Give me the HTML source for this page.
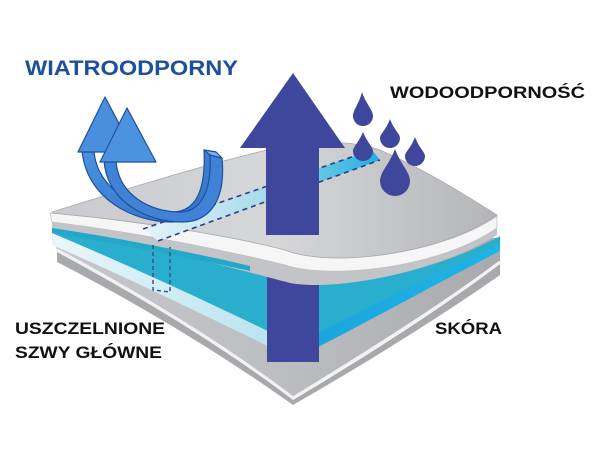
<!DOCTYPE html>
<html><head><meta charset="utf-8"><style>html,body{margin:0;padding:0;background:#fff}svg{display:block}</style></head>
<body>
<svg width="608" height="456" viewBox="0 0 608 456" xmlns="http://www.w3.org/2000/svg">
<defs>
<linearGradient id="gtop" x1="0" y1="0" x2="1" y2="0"><stop offset="0" stop-color="#c9cacd"/><stop offset="0.5" stop-color="#d6d7d9"/><stop offset="1" stop-color="#b4b5b8"/></linearGradient>
<linearGradient id="gbot" x1="0" y1="0" x2="1" y2="0"><stop offset="0" stop-color="#c6c7ca"/><stop offset="0.5" stop-color="#bdbec1"/><stop offset="1" stop-color="#a9aaad"/></linearGradient>
<linearGradient id="seam" x1="0" y1="0" x2="1" y2="0"><stop offset="0" stop-color="#e6f4f9"/><stop offset="0.5" stop-color="#a9dbea"/><stop offset="1" stop-color="#1fb0e0"/></linearGradient>
<linearGradient id="rim" x1="0" y1="0" x2="1" y2="0"><stop offset="0" stop-color="#eaf6fa"/><stop offset="0.5" stop-color="#b9e3f0"/><stop offset="0.56" stop-color="#1aa5dc"/><stop offset="1" stop-color="#1fb3e6"/></linearGradient>
<linearGradient id="sw" x1="0" y1="0" x2="1" y2="1"><stop offset="0" stop-color="#4a93e0"/><stop offset="1" stop-color="#2f6fc6"/></linearGradient>
</defs>
<rect width="608" height="456" fill="#fff"/>

<!-- bottom grey layer -->
<path d="M57,250 C150,300 230,350 293,398 C380,345 450,300 500,262 L500,238 L52,232 Z" fill="url(#gbot)"/>
<path d="M57,250 C150,300 230,350 293,398 C380,345 450,300 500,262" fill="none" stroke="#f2f2f3" stroke-width="3"/>
<path d="M57,252 L57,262 C150,310 230,360 293,405 C380,355 450,310 500,275 L500,264 C450,302 380,348 293,400 C230,352 150,302 57,252 Z" fill="#a8a9ac"/>
<!-- blue layer -->
<path d="M52,229 C150,245 240,270 290,282 C340,292 440,270 500,236 L500,250 C430,285 360,325 295,358 C220,322 140,282 52,244 Z" fill="#2aaecd"/>
<!-- rim -->
<path d="M52,233 C140,270 220,308 295,344 C360,312 430,276 500,244 L500,251 C430,287 360,326 295,359 C220,323 140,283 52,245 Z" fill="url(#rim)"/>
<!-- lower arrow shaft -->
<rect x="267" y="276" width="52" height="86" fill="#3f479c"/>
<!-- grey middle -->
<path d="M52,221 C150,234 240,254 285,265 C330,280 440,268 497,227 L497,235 C440,270 340,292 290,283 C240,270 150,245 52,230 Z" fill="#c3c4c7"/>
<!-- teal thin stripe left -->
<path d="M52,228 C120,238 200,254 250,266 L250,271 C200,260 120,244 52,233 Z" fill="#22a9c8"/>
<!-- white band -->
<path d="M50,213 C150,222 240,238 285,250 C330,268 440,255 497,216 L497,228 C440,268 330,280 285,265 C240,254 150,234 52,222 Z" fill="#f6f6f7" stroke="#bfc0c3" stroke-width="0.8"/>
<!-- top grey -->
<path d="M52,212 C130,188 200,166 267,150 C320,140 350,140 380,150 C430,172 470,198 497,215 C440,255 330,268 285,250 C240,238 150,222 52,213 Z" fill="url(#gtop)" stroke="#a9aaad" stroke-width="0.8"/>
<!-- seam stripe -->
<path d="M143,229 L372,150 L380,160 L158,241 Z" fill="url(#seam)"/>
<line x1="143" y1="229" x2="372" y2="150" stroke="#2a3f8a" stroke-width="1.6" stroke-dasharray="5,4"/>
<line x1="158" y1="241" x2="380" y2="160" stroke="#2a3f8a" stroke-width="1.6" stroke-dasharray="5,4"/>
<!-- vertical seam -->
<path d="M153,245 L153,290 L170,292 L170,247" fill="none" stroke="#3a4a8a" stroke-width="1.4" stroke-dasharray="4,3"/>

<!-- big arrow -->
<polygon points="293,73 345,148 319,148 319,235 266,235 266,148 240,148" fill="#3f479c"/>

<!-- drops -->
<g fill="#3f479c">
<path d="M362,92 C366,104 373,110 373,116 A10,10 0 0 1 353,116 C353,110 359,104 362,92 Z"/>
<path d="M390,119 C394,130 400,134 400,138 A10,10 0 0 1 380,138 C380,134 386,130 390,119 Z"/>
<path d="M363,132 C367,142 373,147 373,151 A10,10 0 0 1 353,151 C353,147 359,142 363,132 Z"/>
<path d="M415,137 C419,148 425,152 425,156 A10,10 0 0 1 405,156 C405,152 411,148 415,137 Z"/>
<path d="M395,149 C401,165 410,172 410,181 A15,15 0 0 1 380,181 C380,172 389,165 395,149 Z"/>
</g>

<!-- blue swoosh arrows -->
<g stroke="#1f4f9c" stroke-width="1.2" stroke-linejoin="round">
<path d="M94,150 C96,190 140,212 172,212 C196,212 206,190 204,150 L216,152 C220,195 205,222 172,222 C132,222 86,198 82,150 Z" fill="url(#sw)"/>
<polygon points="105,97 134,152 78,152" fill="#4a8fdd"/>
<path d="M116,160 C118,195 150,212 180,212 C200,212 212,192 210,155 L222,158 C226,200 210,222 182,222 C145,222 106,200 104,160 Z" fill="#3f82d6"/>
<polygon points="127,108 156,162 100,162" fill="#4b93e0"/>
<path d="M204,150 L216,152 L222,158 L210,155 Z" fill="#7fb4ea"/>
</g>

<!-- text -->
<text x="25" y="75" font-family="Liberation Sans, sans-serif" font-weight="bold" font-size="21" fill="#1d4f9a" textLength="213" lengthAdjust="spacingAndGlyphs">WIATROODPORNY</text>
<text x="390" y="98" font-family="Liberation Sans, sans-serif" font-weight="bold" font-size="17" fill="#111" textLength="195" lengthAdjust="spacingAndGlyphs">WODOODPORNOŚĆ</text>
<text x="15" y="334" font-family="Liberation Sans, sans-serif" font-weight="bold" font-size="17" fill="#111" textLength="150" lengthAdjust="spacingAndGlyphs">USZCZELNIONE</text>
<text x="15" y="358" font-family="Liberation Sans, sans-serif" font-weight="bold" font-size="17" fill="#111" textLength="147" lengthAdjust="spacingAndGlyphs">SZWY GŁÓWNE</text>
<text x="435" y="334" font-family="Liberation Sans, sans-serif" font-weight="bold" font-size="17" fill="#111" textLength="67" lengthAdjust="spacingAndGlyphs">SKÓRA</text>
</svg>
</body></html>
